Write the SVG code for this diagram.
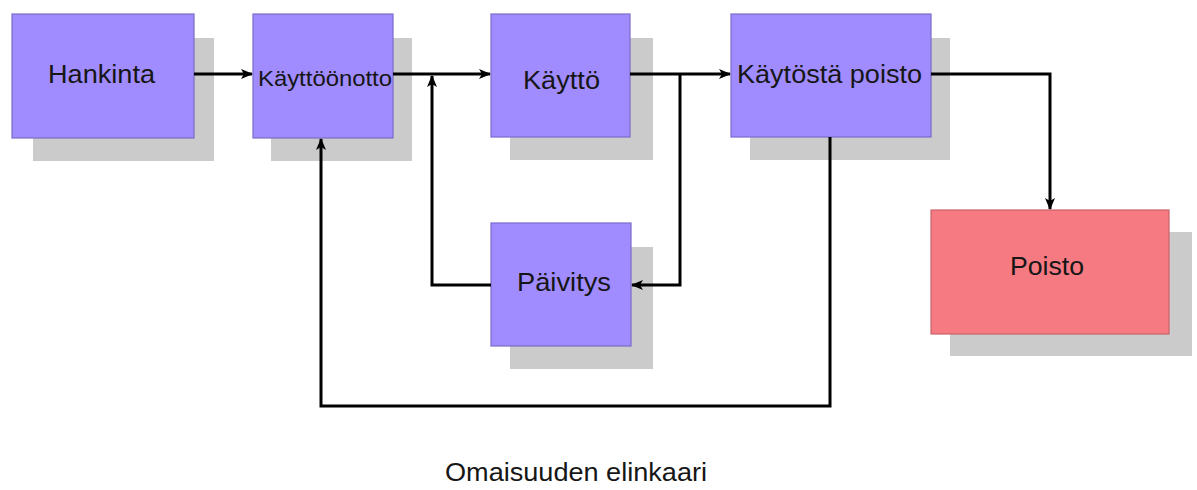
<svg xmlns="http://www.w3.org/2000/svg" width="1197" height="490" viewBox="0 0 1197 490">
<style>
.sh{fill:#cbcbcb}
.bx{fill:#a08cff;stroke:#7b6ccc;stroke-width:1.2}
.rd{fill:#f57a82;stroke:#c8626a;stroke-width:1.2}
.t{font-family:"Liberation Sans",Arial,sans-serif;font-size:25px;fill:#161616;text-anchor:middle}
.c{fill:none;stroke:#000;stroke-width:3}
</style>
<defs>
<marker id="ah" markerUnits="userSpaceOnUse" markerWidth="12" markerHeight="12" refX="11" refY="6" orient="auto" viewBox="0 0 12 12">
<path d="M0,1 L12,6 L0,11 L3,6 z" fill="#000"/>
</marker>
</defs>
<rect width="1197" height="490" fill="#fff"/>
<g id="hankinta">
<rect class="sh" x="33" y="38" width="181" height="123"/>
<rect class="bx" x="12" y="14" width="182" height="124"/>
<text class="t" x="101.5" y="83" textLength="107" lengthAdjust="spacingAndGlyphs">Hankinta</text>
</g>
<g id="kayttoonotto">
<rect class="sh" x="271" y="38" width="141" height="123"/>
<rect class="bx" x="253" y="14" width="140" height="124"/>
<text class="t" x="325" y="86" style="font-size:22px" textLength="134" lengthAdjust="spacingAndGlyphs">Käyttöönotto</text>
</g>
<g id="kaytto">
<rect class="sh" x="510" y="38" width="143" height="122"/>
<rect class="bx" x="491" y="14" width="139" height="123"/>
<text class="t" x="561.5" y="89" textLength="77" lengthAdjust="spacingAndGlyphs">Käyttö</text>
</g>
<g id="kaytosta-poisto">
<rect class="sh" x="750" y="38" width="200" height="122"/>
<rect class="bx" x="731" y="14" width="200" height="123"/>
<text class="t" x="829.5" y="83" textLength="185" lengthAdjust="spacingAndGlyphs">Käytöstä poisto</text>
</g>
<g id="paivitys">
<rect class="sh" x="510" y="247" width="143" height="122"/>
<rect class="bx" x="491" y="223" width="140" height="123"/>
<text class="t" x="564" y="291" textLength="94" lengthAdjust="spacingAndGlyphs">Päivitys</text>
</g>
<g id="poisto">
<rect class="sh" x="950" y="232" width="242" height="124"/>
<rect class="rd" x="931" y="210" width="238" height="124"/>
<text class="t" x="1047" y="275" textLength="74" lengthAdjust="spacingAndGlyphs">Poisto</text>
</g>
<g id="connectors">
<path class="c" d="M194,74 H252" marker-end="url(#ah)"/>
<path class="c" d="M393,74 H490" marker-end="url(#ah)"/>
<path class="c" d="M630,74 H730" marker-end="url(#ah)"/>
<path class="c" d="M680,74 V285 H632" marker-end="url(#ah)"/>
<path class="c" d="M491,285 H432 V76" marker-end="url(#ah)"/>
<path class="c" d="M931,74 H1050 V209" marker-end="url(#ah)"/>
<path class="c" d="M830,137 V406 H321 V139" marker-end="url(#ah)"/>
</g>
<text class="t" x="576" y="481" textLength="262" lengthAdjust="spacingAndGlyphs">Omaisuuden elinkaari</text>
</svg>
